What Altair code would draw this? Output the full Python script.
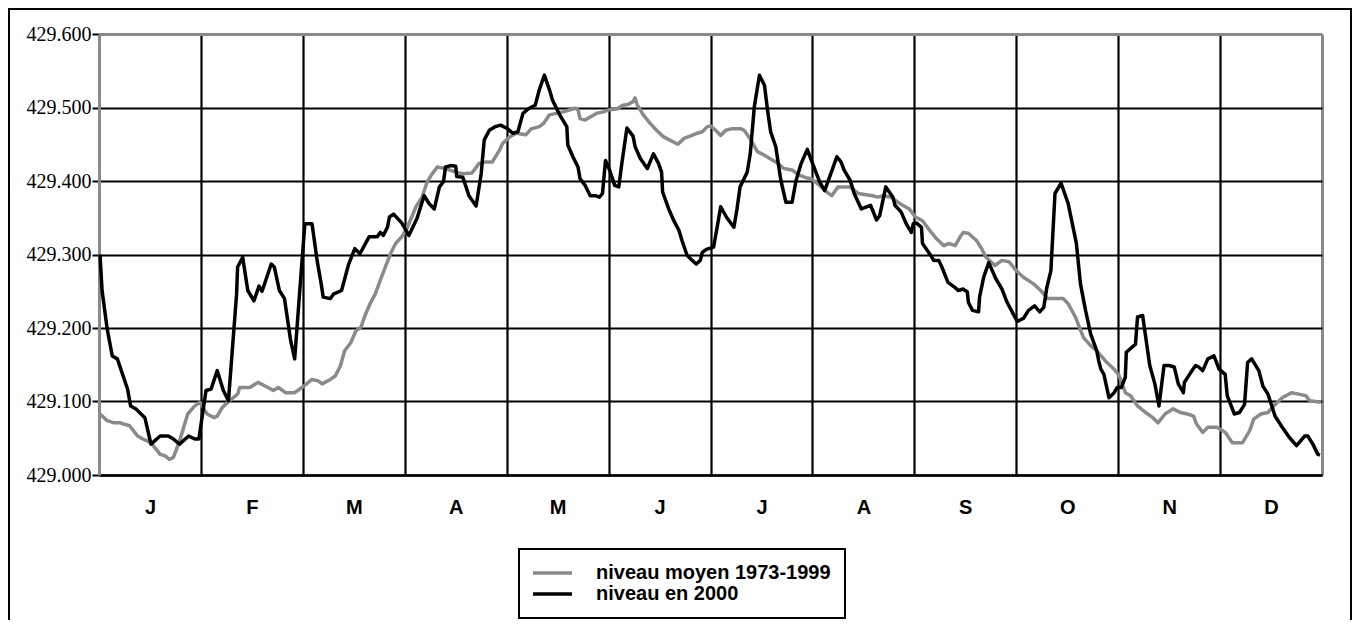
import altair as alt
import pandas as pd

# ---- data (x = position in months, 0..12) ----
months = ["J", "F", "M", "A", "M", "J", "J", "A", "S", "O", "N", "D"]
y_ticks = [429.0, 429.1, 429.2, 429.3, 429.4, 429.5, 429.6]

name_mean = "niveau moyen 1973-1999"
name_2000 = "niveau en 2000"

mean_t = [0.01, 0.08, 0.15, 0.21, 0.25, 0.30, 0.38, 0.43, 0.51, 0.60, 0.65, 0.69, 0.73, 0.79, 0.87, 0.94, 0.99,
          1.06, 1.13, 1.16, 1.21, 1.28, 1.36, 1.38, 1.48, 1.56, 1.63, 1.71, 1.76, 1.83, 1.92, 1.99,
          2.09, 2.15, 2.19, 2.27, 2.32, 2.37, 2.41, 2.47, 2.52, 2.57, 2.61, 2.66, 2.71, 2.76, 2.81, 2.86, 2.91, 2.97,
          3.02, 3.11, 3.17, 3.22, 3.27, 3.32, 3.40, 3.50, 3.57, 3.66, 3.73, 3.80, 3.86, 3.93, 3.96,
          4.03, 4.09, 4.19, 4.24, 4.32, 4.36, 4.42, 4.49, 4.55, 4.62, 4.67, 4.70, 4.72, 4.77, 4.82, 4.88, 4.95,
          5.01, 5.08, 5.14, 5.19, 5.24, 5.26, 5.28, 5.34, 5.41, 5.47, 5.54, 5.61, 5.68, 5.74, 5.80, 5.87, 5.92, 5.97,
          6.00, 6.05, 6.10, 6.15, 6.20, 6.25, 6.30, 6.33, 6.40, 6.46, 6.53, 6.59, 6.66, 6.72, 6.80, 6.87, 6.95, 6.99,
          7.07, 7.14, 7.19, 7.25, 7.37, 7.45, 7.59, 7.64, 7.70, 7.77, 7.86, 7.95,
          8.01, 8.08, 8.15, 8.22, 8.29, 8.34, 8.40, 8.45, 8.48, 8.53, 8.61, 8.66, 8.70, 8.79, 8.86, 8.93,
          9.00, 9.07, 9.17, 9.24, 9.31, 9.46, 9.51, 9.58, 9.66, 9.73, 9.79, 9.89, 9.96,
          10.01, 10.07, 10.12, 10.19, 10.27, 10.34, 10.39, 10.46, 10.54, 10.61, 10.68, 10.74, 10.77, 10.83, 10.88, 10.97,
          11.05, 11.12, 11.22, 11.29, 11.33, 11.40, 11.47, 11.54, 11.61, 11.70, 11.77, 11.84, 11.88, 11.99]
mean_v = [429.083, 429.074, 429.071, 429.071, 429.069, 429.067, 429.053, 429.049, 429.044, 429.028, 429.026, 429.021, 429.024, 429.046, 429.083, 429.094, 429.099,
          429.083, 429.078, 429.080, 429.092, 429.101, 429.110, 429.119, 429.119, 429.126, 429.121, 429.115, 429.119, 429.112, 429.112, 429.119,
          429.130, 429.128, 429.124, 429.130, 429.135, 429.149, 429.169, 429.180, 429.196, 429.201, 429.217, 429.233, 429.246, 429.265, 429.283, 429.301, 429.315, 429.324,
          429.335, 429.365, 429.378, 429.399, 429.410, 429.419, 429.417, 429.412, 429.410, 429.411, 429.424, 429.426, 429.426, 429.442, 429.451,
          429.460, 429.465, 429.463, 429.471, 429.474, 429.478, 429.490, 429.492, 429.494, 429.497, 429.499, 429.497, 429.485, 429.483, 429.487, 429.492, 429.494,
          429.497, 429.498, 429.503, 429.504, 429.508, 429.513, 429.504, 429.490, 429.478, 429.469, 429.460, 429.455, 429.450, 429.458, 429.461, 429.465, 429.467, 429.474,
          429.475, 429.469, 429.462, 429.469, 429.471, 429.471, 429.471, 429.469, 429.455, 429.440, 429.435, 429.430, 429.424, 429.417, 429.415, 429.408, 429.404, 429.403,
          429.394, 429.385, 429.380, 429.392, 429.392, 429.383, 429.380, 429.378, 429.380, 429.378, 429.369, 429.362,
          429.351, 429.346, 429.333, 429.321, 429.312, 429.315, 429.312, 429.324, 429.330, 429.329, 429.319, 429.308, 429.297, 429.285, 429.292, 429.290,
          429.278, 429.269, 429.260, 429.251, 429.240, 429.240, 429.233, 429.215, 429.187, 429.176, 429.169, 429.153, 429.144,
          429.135, 429.112, 429.108, 429.094, 429.085, 429.078, 429.071, 429.083, 429.090, 429.085, 429.083, 429.080, 429.069, 429.058, 429.065, 429.065,
          429.058, 429.044, 429.044, 429.060, 429.076, 429.083, 429.085, 429.096, 429.105, 429.112, 429.110, 429.108, 429.101, 429.099]

y2000_t = [0.01, 0.03, 0.08, 0.13, 0.18, 0.28, 0.31, 0.36, 0.45, 0.51, 0.60, 0.68, 0.73, 0.79, 0.88, 0.94, 0.98,
           1.05, 1.10, 1.16, 1.22, 1.27, 1.35, 1.36, 1.41, 1.46, 1.52, 1.57, 1.60, 1.69, 1.72, 1.77, 1.82, 1.88, 1.92, 1.97,
           2.02, 2.09, 2.14, 2.18, 2.20, 2.27, 2.30, 2.38, 2.45, 2.51, 2.56, 2.65, 2.73, 2.76, 2.79, 2.83, 2.85, 2.89, 2.97,
           3.04, 3.12, 3.19, 3.24, 3.29, 3.34, 3.38, 3.40, 3.45, 3.50, 3.51, 3.57, 3.63, 3.70, 3.75, 3.78, 3.83, 3.89, 3.94,
           4.01, 4.06, 4.11, 4.16, 4.22, 4.28, 4.32, 4.37, 4.42, 4.45, 4.52, 4.59, 4.60, 4.65, 4.70, 4.72, 4.77, 4.82, 4.87, 4.91, 4.94, 4.97,
           5.01, 5.06, 5.10, 5.13, 5.18, 5.24, 5.26, 5.31, 5.38, 5.44, 5.49, 5.52, 5.53, 5.59, 5.64, 5.69, 5.72, 5.77, 5.82, 5.86, 5.90, 5.92, 5.96,
           6.03, 6.06, 6.10, 6.16, 6.23, 6.26, 6.29, 6.36, 6.39, 6.43, 6.48, 6.53, 6.56, 6.59, 6.64, 6.69, 6.74, 6.80, 6.84, 6.89, 6.95, 6.99,
           7.07, 7.12, 7.17, 7.24, 7.28, 7.31, 7.37, 7.41, 7.48, 7.57, 7.63, 7.66, 7.72, 7.79, 7.81, 7.87, 7.92, 7.97, 7.99,
           8.02, 8.07, 8.08, 8.17, 8.19, 8.24, 8.27, 8.33, 8.40, 8.43, 8.48, 8.52, 8.53, 8.57, 8.63, 8.64, 8.68, 8.73, 8.80, 8.86, 8.91, 8.96,
           9.01, 9.07, 9.12, 9.18, 9.23, 9.27, 9.30, 9.34, 9.38, 9.44, 9.51, 9.59, 9.63, 9.68, 9.73, 9.79, 9.81, 9.83, 9.86, 9.91, 9.96, 9.99,
           10.03, 10.07, 10.08, 10.17, 10.19, 10.24, 10.31, 10.36, 10.40, 10.45, 10.50, 10.55, 10.59, 10.64, 10.65, 10.71, 10.76, 10.79, 10.83, 10.88, 10.94, 10.99,
           11.05, 11.07, 11.14, 11.19, 11.24, 11.27, 11.31, 11.38, 11.42, 11.47, 11.54, 11.61, 11.68, 11.75, 11.83, 11.86, 11.91, 11.96, 11.98]
y2000_v = [429.300, 429.251, 429.199, 429.162, 429.158, 429.117, 429.094, 429.090, 429.078, 429.042, 429.053, 429.053, 429.049, 429.042, 429.053, 429.049, 429.049,
           429.115, 429.117, 429.142, 429.115, 429.101, 429.246, 429.283, 429.296, 429.251, 429.237, 429.257, 429.250, 429.287, 429.283, 429.251, 429.240, 429.183, 429.158, 429.251,
           429.342, 429.342, 429.292, 429.260, 429.242, 429.240, 429.246, 429.251, 429.287, 429.308, 429.301, 429.324, 429.324, 429.330, 429.326, 429.337, 429.351, 429.355, 429.343,
           429.326, 429.349, 429.380, 429.369, 429.362, 429.392, 429.399, 429.419, 429.421, 429.420, 429.406, 429.405, 429.380, 429.366, 429.410, 429.456, 429.469, 429.474, 429.476,
           429.471, 429.465, 429.467, 429.492, 429.499, 429.503, 429.524, 429.544, 429.524, 429.510, 429.490, 429.474, 429.449, 429.433, 429.419, 429.403, 429.394, 429.380, 429.380, 429.378, 429.383, 429.428,
           429.415, 429.394, 429.392, 429.424, 429.472, 429.461, 429.447, 429.431, 429.417, 429.437, 429.424, 429.412, 429.385, 429.362, 429.346, 429.333, 429.319, 429.299, 429.292, 429.287, 429.292, 429.303, 429.307,
           429.310, 429.333, 429.365, 429.350, 429.337, 429.362, 429.392, 429.412, 429.437, 429.501, 429.544, 429.530, 429.496, 429.467, 429.447, 429.401, 429.371, 429.371, 429.401, 429.424, 429.443, 429.428,
           429.399, 429.387, 429.406, 429.433, 429.426, 429.415, 429.401, 429.383, 429.362, 429.367, 429.347, 429.353, 429.392, 429.378, 429.367, 429.358, 429.342, 429.330, 429.342,
           429.343, 429.337, 429.315, 429.297, 429.292, 429.292, 429.283, 429.262, 429.255, 429.251, 429.253, 429.249, 429.235, 429.224, 429.222, 429.242, 429.269, 429.289, 429.267, 429.253, 429.235, 429.222,
           429.209, 429.213, 429.224, 429.230, 429.222, 429.228, 429.255, 429.278, 429.383, 429.397, 429.369, 429.315, 429.260, 429.224, 429.192, 429.169, 429.155, 429.144, 429.137, 429.105, 429.112, 429.119,
           429.119, 429.133, 429.167, 429.178, 429.215, 429.217, 429.149, 429.124, 429.094, 429.149, 429.149, 429.147, 429.124, 429.112, 429.126, 429.139, 429.149, 429.147, 429.142, 429.158, 429.162, 429.144,
           429.137, 429.108, 429.083, 429.085, 429.096, 429.153, 429.158, 429.142, 429.121, 429.110, 429.080, 429.065, 429.051, 429.040, 429.053, 429.053, 429.042, 429.028, 429.027]

GRAY = "#8a8a8a"

df = pd.concat([
    pd.DataFrame({"t": mean_t, "niveau": mean_v, "serie": name_mean}),
    pd.DataFrame({"t": y2000_t, "niveau": y2000_v, "serie": name_2000}),
], ignore_index=True)
df["ordre"] = range(len(df))

x_values = [i / 2 for i in range(25)]
month_js = "[" + ",".join("'" + m + "'" for m in months) + "]"
label_expr = f"datum.value % 1 == 0.5 ? {month_js}[floor(datum.value)] : ''"

x_axis = alt.Axis(
    values=x_values, labelExpr=label_expr, ticks=False, title="",
    domainColor="black", domainWidth=2.5,
    gridOpacity={"condition": {"test": "datum.value % 1 != 0 || datum.value == 0", "value": 0}, "value": 1},
    gridColor={"condition": {"test": "datum.value >= 11.99", "value": GRAY}, "value": "black"},
    gridWidth={"condition": {"test": "datum.value >= 11.99", "value": 3}, "value": 2.2},
    labelFont="Liberation Sans", labelFontWeight="bold", labelFontSize=20, labelColor="black",
    labelPadding=22, labelFlush=False, labelOverlap=False,
)
y_axis = alt.Axis(
    values=y_ticks, format=".3f", title="",
    domainColor=GRAY, domainWidth=3,
    tickColor="black", tickSize=7, tickWidth=2,
    gridColor={"condition": {"test": "datum.value >= 429.59", "value": GRAY}, "value": "black"},
    gridWidth={"condition": {"test": "datum.value >= 429.59", "value": 3}, "value": 2.2},
    labelFont="Liberation Serif", labelFontSize=20, labelColor="black", labelPadding=1,
)

lines = alt.Chart(df).mark_line(strokeWidth=3.5, strokeJoin="round").encode(
    x=alt.X("t:Q", scale=alt.Scale(domain=[0, 12], nice=False, zero=False), axis=x_axis),
    y=alt.Y("niveau:Q", scale=alt.Scale(domain=[429.0, 429.6], nice=False, zero=False), axis=y_axis),
    color=alt.Color(
        "serie:N",
        scale=alt.Scale(domain=[name_mean, name_2000], range=[GRAY, "black"]),
        legend=alt.Legend(
            orient="none", legendX=420, legendY=515, title=None, direction="vertical",
            symbolType="stroke", symbolSize=2025, symbolStrokeWidth=3.5,
            labelFont="Liberation Sans", labelFontWeight="bold", labelFontSize=20,
            labelColor="black", labelLimit=400, labelOffset=22, symbolOffset=-8,
            labelExpr="datum.label + ' '", clipHeight=20,
            strokeColor="black", fillColor="white", padding=14, rowPadding=1,
        ),
    ),
    order="ordre:Q",
    detail="serie:N",
)

frame = alt.Chart(pd.DataFrame({"b": [0]})).mark_rect(
    fillOpacity=0, stroke="black", strokeWidth=2
).encode(
    x=alt.value(-90), x2=alt.value(1252), y=alt.value(-25), y2=alt.value(640)
)

chart = alt.layer(lines, frame).properties(
    width=1223, height=441,
    autosize=alt.AutoSizeParams(type="none"),
    padding={"left": 91, "top": 26, "right": 32, "bottom": 145},
).configure_view(strokeWidth=0).configure_legend(strokeWidth=2)

chart.save("out.html", embed_options={"renderer": "svg", "actions": False})
